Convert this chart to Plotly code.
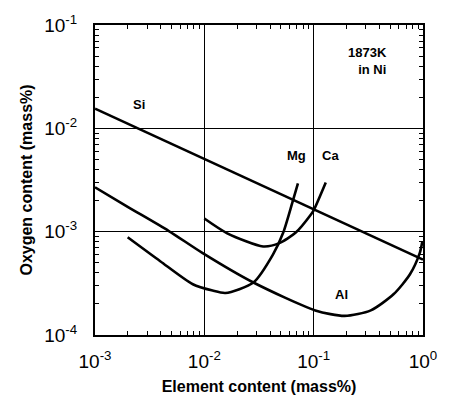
import plotly.graph_objects as go

# Element content (mass%) and oxygen content (mass%)
si_x = [0.001, 1.0]
si_y = [0.0155, 0.000537]

al_x = [0.0010, 0.00199, 0.0047, 0.00966, 0.0281, 0.1035, 0.192, 0.333, 0.540, 0.760, 0.933, 0.986]
al_y = [0.00269, 0.00174, 0.00102, 0.00062, 0.000322, 0.000173, 0.000153, 0.000173, 0.000249, 0.000387, 0.00062, 0.000804]

mg_x = [0.00199, 0.00395, 0.00785, 0.0119, 0.0156, 0.0281, 0.0424, 0.0527, 0.0640, 0.0718]
mg_y = [0.000883, 0.000518, 0.000310, 0.000269, 0.000255, 0.000322, 0.000600, 0.00098, 0.00193, 0.00293]

ca_x = [0.0100, 0.0162, 0.0345, 0.0485, 0.0686, 0.0933, 0.100, 0.129]
ca_y = [0.00134, 0.000964, 0.000719, 0.000774, 0.00098, 0.00144, 0.00161, 0.00299]

tick_vals = [0.0001, 0.001, 0.01, 0.1, 1]
tick_text = ["10<sup>-4</sup>", "10<sup>-3</sup>", "10<sup>-2</sup>", "10<sup>-1</sup>", "10<sup>0</sup>"]
decades = [0.0001, 0.001, 0.01, 0.1]
minor_vals = [d * m for d in decades for m in range(2, 10)]

FONT = "Liberation Sans, Arial, sans-serif"

fig = go.Figure()
for xs, ys, name in [(si_x, si_y, "Si"), (al_x, al_y, "Al"), (mg_x, mg_y, "Mg"), (ca_x, ca_y, "Ca")]:
    fig.add_trace(go.Scatter(x=xs, y=ys, mode="lines", name=name,
                             line=dict(color="black", width=2.6, shape="spline", smoothing=0.7),
                             showlegend=False))

axis_common = dict(
    type="log",
    showline=True, linecolor="black", linewidth=2,
    mirror="allticks",
    ticks="inside", ticklen=5, tickwidth=1, tickcolor="black",
    showgrid=True, gridcolor="black", gridwidth=1,
    zeroline=False,
    tickmode="array", tickvals=tick_vals, ticktext=tick_text,
    tickfont=dict(family=FONT, size=19, color="black"),
    minor=dict(ticks="inside", ticklen=4, tickwidth=1, tickcolor="black",
               tickmode="array", tickvals=minor_vals, showgrid=False),
)

fig.update_xaxes(**axis_common, range=[-3, 0], ticklabelstandoff=8,
                 title=dict(text="<b>Element content (mass%)</b>", font=dict(family=FONT, size=16, color="black"), standoff=10))
fig.update_yaxes(**axis_common, range=[-4, -1], ticklabelstandoff=12,
                 title=dict(text="<b>Oxygen content (mass%)</b>", font=dict(family=FONT, size=16, color="black"), standoff=8))

ann_font = dict(family=FONT, size=13, color="black")
for txt, ax, ay in [("<b>Si</b>", -2.596, -1.769), ("<b>Mg</b>", -1.161, -2.267),
                    ("<b>Ca</b>", -0.847, -2.267), ("<b>Al</b>", -0.742, -3.61)]:
    fig.add_annotation(x=ax, y=ay, xref="x", yref="y", text=txt, showarrow=False, font=ann_font)
fig.add_annotation(x=-0.31, y=-1.352, xref="x", yref="y", text="<b>1873K<br>in Ni</b>",
                   showarrow=False, font=ann_font, align="right", xanchor="right")

fig.update_layout(
    width=449, height=410,
    margin=dict(l=95, r=19, t=20, b=75),
    paper_bgcolor="white", plot_bgcolor="white",
)

fig.write_html("out.html")
